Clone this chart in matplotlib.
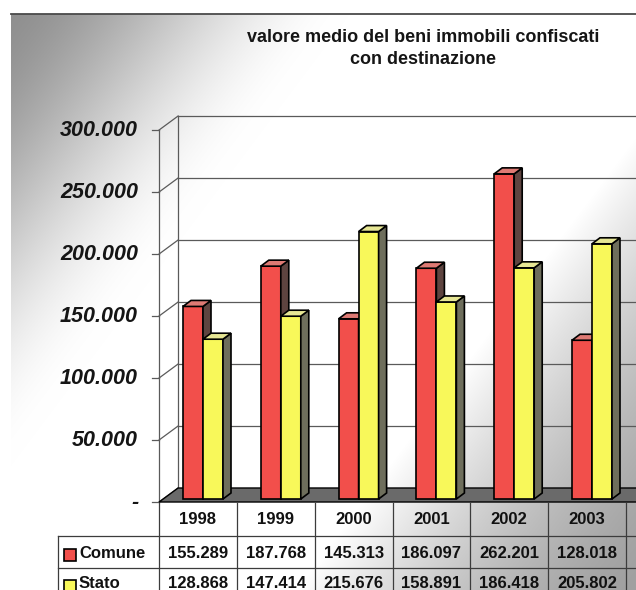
import numpy as np
import matplotlib
import matplotlib.pyplot as plt
from matplotlib.patches import Polygon
from matplotlib import transforms

matplotlib.rc('font', family='Liberation Sans')

title = "valore medio del beni immobili confiscati\ncon destinazione"
years = ['1998', '1999', '2000', '2001', '2002', '2003']
comune = [155289, 187768, 145313, 186097, 262201, 128018]
stato = [128868, 147414, 215676, 158891, 186418, 205802]
series_names = ['Comune', 'Stato']
y_ticks = [0, 50000, 100000, 150000, 200000, 250000, 300000]

face = ['#f24f4b', '#f8f85a']
side = ['#5e4440', '#6e6e5c']
top = ['#de7a74', '#e6e694']


def fmt(v):
    return '-' if v == 0 else f"{v:,}".replace(',', '.')


W, H = 636, 590
fig = plt.figure(figsize=(W / 100, H / 100), dpi=100)

# chart area background: grey in the top-left and bottom-right corners
bg = fig.add_axes([0, 0, 1, 1])
bg.set_xlim(0, W)
bg.set_ylim(H, 0)
bg.axis('off')
yy, xx = np.mgrid[0:H, 0:W].astype(float)
d = np.clip((xx + 0.75 * yy) / 360, 0, 1)
g_tl = 142 + 113 * (3 * d ** 2 - 2 * d ** 3)
e = np.clip(((W - xx) + 0.75 * (H - yy)) / 340, 0, 1)
g_br = 160 + 95 * e ** 1.5
g = np.minimum(g_tl, g_br) / 255
img = np.dstack([g, g, g])
bg.imshow(img[14:, 11:], extent=(11, W, H, 14), aspect='auto', zorder=0)
bg.plot([11, W], [14, 14], color='#4a4a4a', lw=1.3)

# plotting axes: x in categories, y in euro, front plane of the chart
ax = fig.add_axes([0, 0, 1, 1])
ax.patch.set_alpha(0)
ax.axis('off')
PX = 1 / 77.8          # one pixel along x, in categories
PY = 1 / 0.00124       # one pixel along y, in euro
X0, X1 = -198 * PX, (W - 198) * PX
ax.set_xlim(X0, X1)
ax.set_ylim((502 - H) * PY, 502 * PY)

XL = -0.5                    # left edge of the floor / value axis
WX, WY = 19 * PX, 14 * PY    # depth of the back wall
grid_c = '#5a5a5a'

# floor
floor = Polygon([(XL, 0), (X1 + 1, 0), (X1 + 1 + WX, WY), (XL + WX, WY)],
                closed=True, facecolor='#6a6a6a', edgecolor='k', lw=1.0, zorder=2)
ax.add_patch(floor)

# value axis, wall grid and labels
ax.plot([XL, XL], [0, y_ticks[-1]], color=grid_c, lw=0.9, zorder=1)
ax.plot([XL + WX, XL + WX], [WY, y_ticks[-1] + WY], color=grid_c, lw=0.9, zorder=1)
for v in y_ticks:
    if v > 0:
        ax.plot([XL + WX, X1 + 1], [v + WY, v + WY], color=grid_c, lw=0.9, zorder=1)
    ax.plot([XL, XL + WX], [v, v + WY], color=grid_c, lw=0.9, zorder=1)
    ax.plot([XL - 7 * PX, XL], [v, v], color=grid_c, lw=0.9, zorder=1)
    ax.text(XL - 21 * PX, v, fmt(v), ha='right', va='center',
            fontsize=15.5, fontweight='bold', fontstyle='italic', color='#151515')

# 3d bars
BX, BY = 5 * PX, 3 * PY      # bar plane offset
DX, DY = 8 * PX, 6 * PY      # bar depth
BW = 20 * PX
x = np.arange(len(years))
for k, vals in enumerate([comune, stato]):
    lefts = x - BW + k * BW + BX
    ax.bar(lefts, vals, width=BW, bottom=BY, align='edge', color=face[k],
           edgecolor='k', lw=1.2, zorder=3 + k)
    for l, v in zip(lefts, vals):
        r, b, t = l + BW, BY, BY + v
        ax.add_patch(Polygon([(r, b), (r + DX, b + DY), (r + DX, t + DY), (r, t)],
                             closed=True, facecolor=side[k], edgecolor='k',
                             lw=1.2, zorder=3 + k))
        ax.add_patch(Polygon([(l, t), (r, t), (r + DX, t + DY), (l + DX, t + DY)],
                             closed=True, facecolor=top[k], edgecolor='k',
                             lw=1.2, zorder=3 + k))

# data table under the floor
tt = transforms.blended_transform_factory(ax.transData, fig.transFigure)
fy = lambda p: 1 - p / H
line_c = '#3c3c3c'
XK = (58 - 198) * PX    # left border of the legend column
for k in range(len(years) + 1):
    ax.plot([XL + k, XL + k], [fy(503), fy(H)], color=line_c, lw=0.9, transform=tt)
ax.plot([XK, XK], [fy(536), fy(H)], color=line_c, lw=0.9, transform=tt)
for p in (536, 568):
    ax.plot([XK, X1 + 1], [fy(p), fy(p)], color=line_c, lw=0.9, transform=tt)

for i, yr in enumerate(years):
    ax.text(i, fy(520), yr, ha='center', va='center', fontsize=12,
            fontweight='bold', color='#111111', transform=tt)
for k, (name, vals, p) in enumerate(zip(series_names, [comune, stato], [553, 584])):
    ax.plot([(69.5 - 198) * PX], [fy(p + 2)], marker='s', ms=8.5, mfc=face[k],
            mec='k', mew=1.2, transform=tt, clip_on=False)
    ax.text((79 - 198) * PX, fy(p), name, ha='left', va='center', fontsize=12,
            fontweight='bold', color='#111111', transform=tt)
    for i, v in enumerate(vals):
        ax.text(i, fy(p), fmt(v), ha='center', va='center', fontsize=12,
                fontweight='bold', color='#111111', transform=tt)

fig.text(423 / W, 1 - 48.5 / H, title, ha='center', va='center', fontsize=13,
         fontweight='bold', color='#151515', linespacing=1.45)

plt.savefig('out.png', dpi=100)
